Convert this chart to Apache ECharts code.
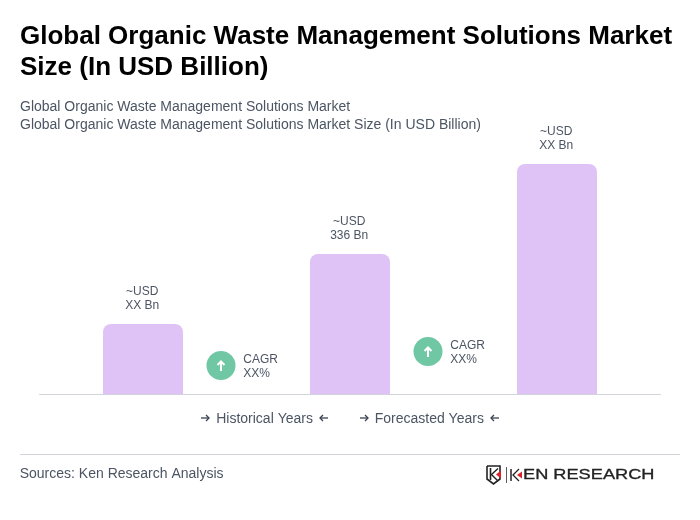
<!DOCTYPE html>
<html>
<head>
<meta charset="utf-8">
<style>
html,body{margin:0;padding:0;background:#fff;}
#chart{width:700px;height:520px;}
</style>
<script src="https://cdn.jsdelivr.net/npm/echarts@6/dist/echarts.min.js"></script>
</head>
<body>
<div id="chart"></div>
<script>
// data read from the picture (only 336 is printed, the others are estimated from bar height)
var categories=['Historical','Base','Forecast'];
var marketValues=[168,336,552];
var valueLabels=['~USD\nXX Bn','~USD\n336 Bn','~USD\nXX Bn'];
var cagrLabels=['CAGR\nXX%','CAGR\nXX%'];
var periodLabels=['Historical Years','Forecasted Years'];

var FONT='"Liberation Sans",Arial,sans-serif';
var BAR_COLOR='#dfc3f7';
var GREEN='#6fc7a3';
var GREY='#4b5563';

var myChart=echarts.init(document.getElementById('chart'),null,{renderer:'canvas'});

//一个CAGR圆圈和文字
function cagrBadge(cx,cy,text){
	return [
		{type:'circle',shape:{cx:cx,cy:cy,r:14.5},style:{fill:GREEN}},
		{type:'polyline',shape:{points:[[cx,cy+5.5],[cx,cy-3]]},style:{stroke:'#fff',lineWidth:2,fill:null}},
		{type:'polyline',shape:{points:[[cx-3.5,cy-0.5],[cx,cy-4],[cx+3.5,cy-0.5]]},style:{stroke:'#fff',lineWidth:2,fill:null}},
		{type:'text',x:cx+22.3,y:cy+1,style:{text:text,fill:GREY,fontFamily:FONT,fontSize:12,lineHeight:14,textVerticalAlign:'middle'}}
	];
}

//小箭头,dir=1向右,dir=-1向左
function arrow(cx,cy,dir){
	return {type:'polyline',shape:{points:[[cx-4*dir,cy],[cx+4*dir,cy]]},style:{stroke:'#374151',lineWidth:1.3,fill:null}};
}
function arrowHead(cx,cy,dir){
	return {type:'polyline',shape:{points:[[cx+1*dir,cy-3],[cx+4*dir,cy],[cx+1*dir,cy+3]]},style:{stroke:'#374151',lineWidth:1.3,fill:null}};
}
function periodItem(x1,tx,x2,text){
	return [
		arrow(x1,418,1),arrowHead(x1,418,1),
		{type:'text',x:tx,y:419,style:{text:text,fill:GREY,fontFamily:FONT,fontSize:14,textVerticalAlign:'middle'}},
		arrow(x2,418,-1),arrowHead(x2,418,-1)
	];
}

var graphics=[]
	.concat(cagrBadge(221,365.5,cagrLabels[0]))
	.concat(cagrBadge(428,351.5,cagrLabels[1]))
	.concat(periodItem(205,216.2,324,periodLabels[0]))
	.concat(periodItem(364,374.7,495,periodLabels[1]))
	.concat([
		//页脚分割线和来源
		{type:'line',shape:{x1:20,y1:454.5,x2:680,y2:454.5},style:{stroke:'#d1d5db',lineWidth:1}},
		{type:'text',x:19.7,y:474,style:{text:'Sources: Ken Research Analysis',fill:GREY,fontFamily:FONT,fontSize:14,textVerticalAlign:'middle'}},
		//logo
		{type:'polyline',shape:{points:[[487,466],[500,466],[500,479],[493.5,484],[487,479],[487,466]]},style:{stroke:'#222',lineWidth:1.6,fill:null}},
		{type:'polyline',shape:{points:[[490.5,468],[490.5,480]]},style:{stroke:'#222',lineWidth:1.6,fill:null}},
		{type:'polyline',shape:{points:[[498,468.5],[491.5,474.5],[498,481]]},style:{stroke:'#222',lineWidth:1.4,fill:null}},
		{type:'polygon',shape:{points:[[501,470.5],[496,474.5],[501,478.5]]},style:{fill:'#d8232a'}},
		{type:'line',shape:{x1:506.5,y1:467,x2:506.5,y2:483},style:{stroke:'#333',lineWidth:0.8}},
		{type:'polyline',shape:{points:[[511,469],[511,481]]},style:{stroke:'#222',lineWidth:1.5,fill:null}},
		{type:'polyline',shape:{points:[[519,469],[513,475],[519,481]]},style:{stroke:'#222',lineWidth:1.3,fill:null}},
		{type:'polygon',shape:{points:[[522,471.5],[517,475],[522,478.5]]},style:{fill:'#d8232a'}},
		{type:'text',x:523,y:475,scaleX:1.3,style:{text:'EN RESEARCH',fill:'#222',stroke:'#222',lineWidth:0.3,fontFamily:FONT,fontSize:14,textVerticalAlign:'middle'}}
	]);

var option={
	animation:false,
	backgroundColor:'#fff',
	title:[
		{text:'Global Organic Waste Management Solutions Market\nSize (In USD Billion)',left:20,top:21,padding:0,
			textStyle:{fontFamily:FONT,fontSize:26,fontWeight:'bold',color:'#000',lineHeight:31}},
		{text:'Global Organic Waste Management Solutions Market\nGlobal Organic Waste Management Solutions Market Size (In USD Billion)',left:20,top:98,padding:0,
			textStyle:{fontFamily:FONT,fontSize:14,fontWeight:'normal',color:GREY,lineHeight:18}}
	],
	grid:{left:39.5,right:39.5,top:144,bottom:126},
	xAxis:{
		type:'category',
		data:categories,
		axisLine:{lineStyle:{color:'#d1d5db',width:1}},
		axisTick:{show:false},
		axisLabel:{show:false}
	},
	yAxis:{
		type:'value',
		min:0,
		max:600,
		show:false
	},
	series:[{
		type:'bar',
		data:marketValues,
		barWidth:80,
		itemStyle:{color:BAR_COLOR,borderRadius:[8,8,0,0]},
		label:{
			show:true,
			position:'top',
			distance:11,
			offset:[-0.8,0],
			formatter:function(p){return valueLabels[p.dataIndex];},
			fontFamily:FONT,
			fontSize:12,
			lineHeight:14,
			color:GREY
		}
	}],
	graphic:graphics
};
myChart.setOption(option);
</script>
</body>
</html>
